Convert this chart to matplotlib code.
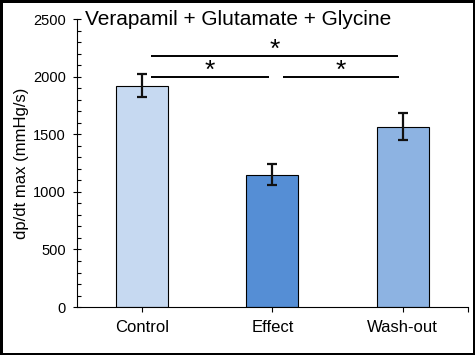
import matplotlib
matplotlib.use("Agg")
import matplotlib.pyplot as plt
from matplotlib.ticker import MultipleLocator, FixedLocator

plt.rcParams['font.family'] = ['Liberation Sans', 'DejaVu Sans']

# data
groups = ["Control", "Effect", "Wash-out"]
means = [1920, 1150, 1565]
errors = [100, 90, 118]
colors = ["#c6d9f1", "#558ed5", "#8db3e2"]

# significance brackets: (x start, x end, height)
sig_lines = [(0.57, 2.46, 2180), (0.57, 1.47, 2000), (1.58, 2.47, 2000)]

fig = plt.figure(figsize=(4.75, 3.55), dpi=100, edgecolor="black", linewidth=3.5)
ax = fig.add_axes([0.162, 0.135, 0.823, 0.811])

xpos = [0.5, 1.5, 2.5]
ax.bar(xpos, means, width=0.4, color=colors, edgecolor="black", linewidth=0.8)
ax.errorbar(xpos, means, yerr=errors, fmt="none", ecolor="#111111",
            elinewidth=1.6, capsize=3.5, capthick=1.6)

for x0, x1, y in sig_lines:
    ax.plot([x0, x1], [y, y], color="black", lw=1.4, solid_capstyle="butt")
    ax.text((x0 + x1) / 2, y - 50, "*", ha="center", va="bottom", fontsize=19)

ax.set_xlim(0, 3)
ax.set_ylim(0, 2500)
ax.set_xticks(xpos)
ax.set_xticklabels(groups, fontsize=12)
ax.xaxis.set_minor_locator(FixedLocator([3]))
ax.yaxis.set_major_locator(MultipleLocator(500))
ax.yaxis.set_minor_locator(MultipleLocator(100))
ax.tick_params(axis="y", which="major", direction="inout", length=6, width=0.8,
               labelsize=10.5, pad=5)
ax.tick_params(axis="y", which="minor", direction="in", length=2.8, width=0.8)
ax.tick_params(axis="x", which="both", direction="out", length=3.5, width=0.8, pad=6)

for s in ["top", "right"]:
    ax.spines[s].set_visible(False)
for s in ["left", "bottom"]:
    ax.spines[s].set_linewidth(0.8)

ax.set_ylabel("dp/dt max (mmHg/s)", fontsize=12, labelpad=3)
ax.text(0.02, 1.0, "Verapamil + Glutamate + Glycine", transform=ax.transAxes,
        ha="left", va="center", fontsize=15)

fig.savefig("out.png", dpi=100)
